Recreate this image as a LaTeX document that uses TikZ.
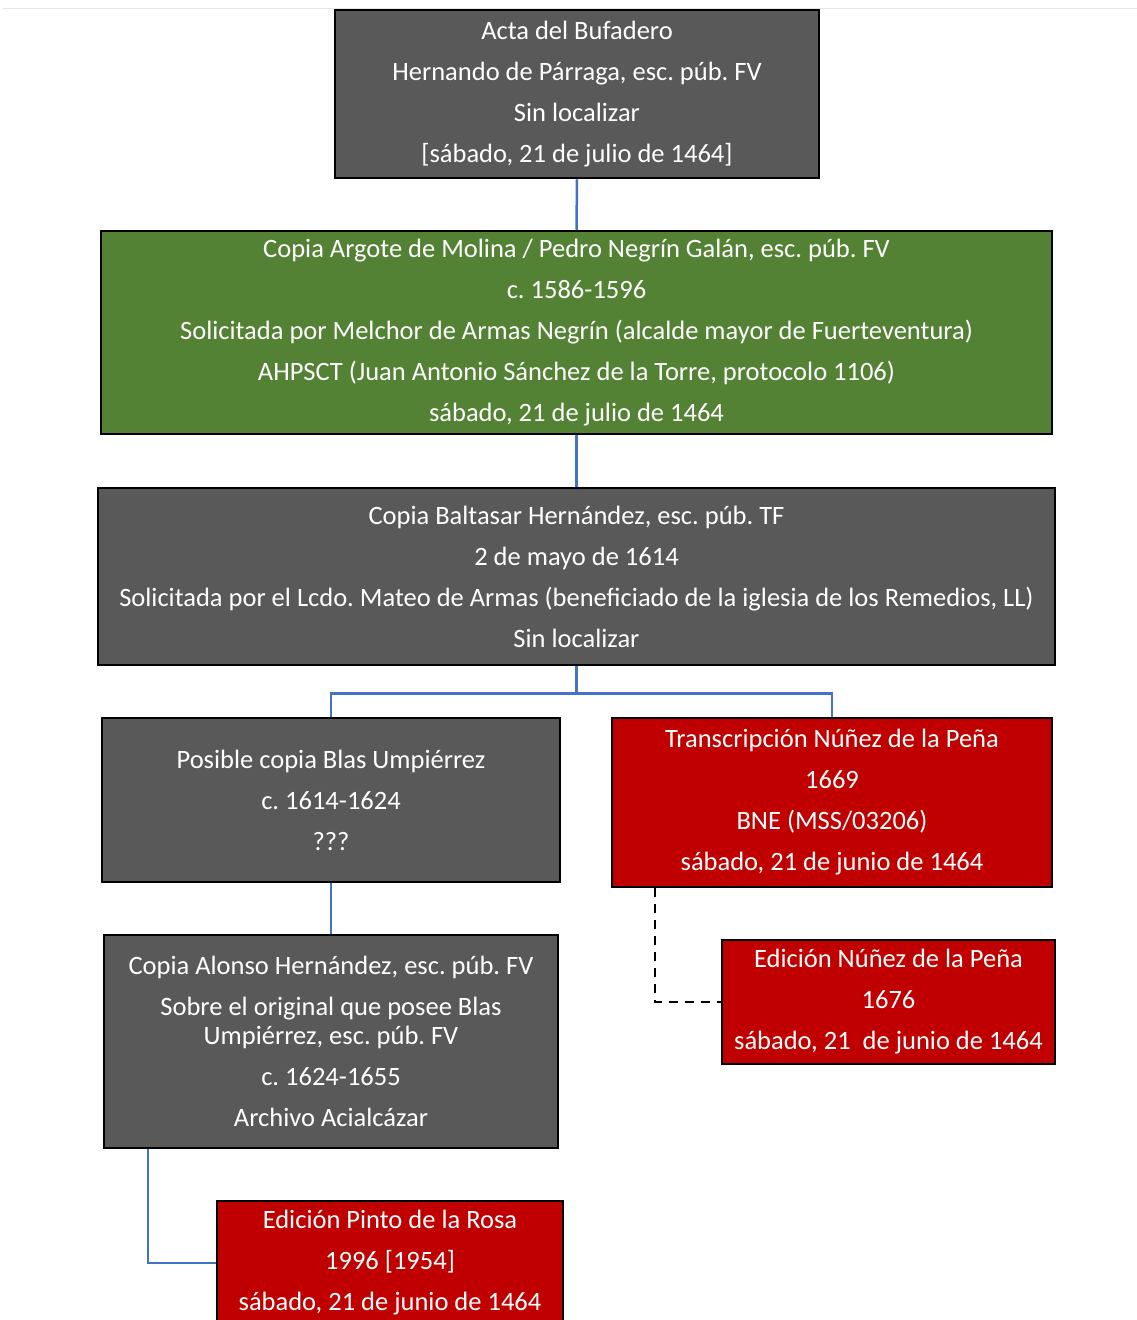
\documentclass[tikz,border=0pt]{standalone}
\usepackage{fontspec}
\setmainfont{Carlito}
\frenchspacing
\definecolor{boxgray}{HTML}{595959}
\definecolor{boxgreen}{HTML}{548235}
\definecolor{boxred}{HTML}{C00000}
\definecolor{connblue}{HTML}{4472C4}
\begin{document}
\begin{tikzpicture}[x=1pt,y=-1pt,
  box/.style={draw=black, line width=2.5pt, text=white, align=center, inner sep=0pt,
    font=\fontsize{26.5}{29}\selectfont},
  graybox/.style={box, fill=boxgray},
  greenbox/.style={box, fill=boxgreen},
  redbox/.style={box, fill=boxred},
  conn/.style={draw=connblue, line width=2.5pt},
  dconn/.style={draw=black, line width=2.5pt, dash pattern=on 9pt off 7pt}]
\useasboundingbox (0,0) rectangle (1137,1320);
\draw[gray!20, line width=1pt] (3,8) -- (1137,8);

\node[graybox, minimum width=484pt, minimum height=168pt] (acta) at (577,94)
 {Acta del Bufadero\\[12pt] Hernando de Párraga, esc. púb. FV\\[12pt] Sin localizar\\[12pt] [sábado, 21 de julio de 1464]};

\node[greenbox, minimum width=951pt, minimum height=203pt] (argote) at (576.5,332.5)
 {Copia Argote de Molina / Pedro Negrín Galán, esc. púb. FV\\[12pt] c. 1586-1596\\[12pt] Solicitada por Melchor de Armas Negrín (alcalde mayor de Fuerteventura)\\[12pt] AHPSCT (Juan Antonio Sánchez de la Torre, protocolo 1106)\\[12pt] sábado, 21 de julio de 1464};

\node[graybox, minimum width=957pt, minimum height=177pt] (baltasar) at (576.5,576.5)
 {Copia Baltasar Hernández, esc. púb. TF\\[12pt] 2 de mayo de 1614\\[12pt] Solicitada por el Lcdo. Mateo de Armas (beneficiado de la iglesia de los Remedios, LL)\\[12pt] Sin localizar};

\node[graybox, minimum width=458pt, minimum height=164pt] (posible) at (331,800)
 {Posible copia Blas Umpiérrez\\[12pt] c. 1614-1624\\[12pt] ???};

\node[redbox, minimum width=440pt, minimum height=169pt] (transc) at (832,802.5)
 {Transcripción Núñez de la Peña\\[12pt] 1669\\[12pt] BNE (MSS/03206)\\[12pt] sábado, 21 de junio de 1464};

\node[redbox, minimum width=333pt, minimum height=124pt] (nunez) at (888.5,1002)
 {Edición Núñez de la Peña\\[12pt] 1676\\[12pt] sábado, 21\ \ de junio de 1464};

\node[graybox, minimum width=454pt, minimum height=213pt] (alonso) at (331,1041.5)
 {Copia Alonso Hernández, esc. púb. FV\\[12pt] Sobre el original que posee Blas\\ Umpiérrez, esc. púb. FV\\[12pt] c. 1624-1655\\[12pt] Archivo Acialcázar};

\node[redbox, minimum width=346pt, minimum height=124pt] (pinto) at (390,1263)
 {Edición Pinto de la Rosa\\[12pt] 1996 [1954]\\[12pt] sábado, 21 de junio de 1464};

\draw[conn] (acta.south) -- (argote.north);
\draw[conn] (argote.south) -- (baltasar.north);
\draw[conn] (baltasar.south) -- ++(0,27) -| (posible.north);
\draw[conn] (baltasar.south) -- ++(0,27) -| (transc.north);
\draw[conn] (posible.south) -- (alonso.north);
\draw[conn] (alonso.south west) ++(45,0) |- (pinto.west);
\draw[dconn] (transc.south west) ++(44,0) |- (nunez.west);
\end{tikzpicture}
\end{document}
